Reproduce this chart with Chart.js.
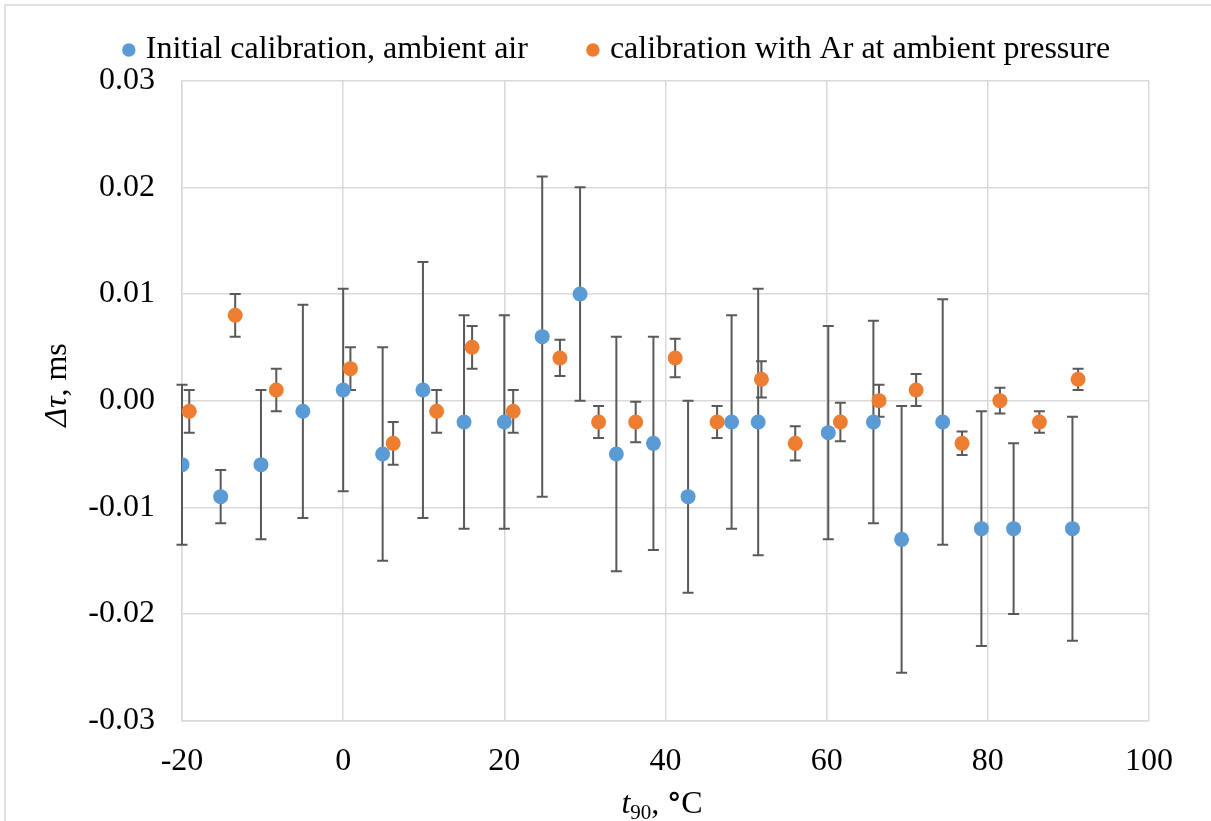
<!DOCTYPE html>
<html>
<head>
<meta charset="utf-8">
<script src="https://cdn.jsdelivr.net/npm/chart.js@4.4.1/dist/chart.umd.min.js"></script>
<style>
  html, body { margin: 0; padding: 0; background: #fff; }
  #wrap { position: relative; width: 1211px; height: 821px; }
</style>
</head>
<body>
<div id="wrap"><canvas id="chart"></canvas></div>
<script>
// values
const airT = [-20, -15.2, -10.2, -5, 0, 4.9, 9.9, 15, 20, 24.7, 29.4, 33.9, 38.5, 42.8, 48.2, 51.5, 60.2, 65.8, 69.3, 74.4, 79.2, 83.2, 90.5];
const airDelta = [-0.006, -0.009, -0.006, -0.001, 0.001, -0.005, 0.001, -0.002, -0.002, 0.006, 0.010, -0.005, -0.004, -0.009, -0.002, -0.002, -0.003, -0.002, -0.013, -0.002, -0.012, -0.012, -0.012];
const airErr = [0.0075, 0.0025, 0.007, 0.01, 0.0095, 0.01, 0.012, 0.01, 0.01, 0.015, 0.01, 0.011, 0.01, 0.009, 0.01, 0.0125, 0.01, 0.0095, 0.0125, 0.0115, 0.011, 0.008, 0.0105];

const arT = [-19.1, -13.4, -8.3, 0.9, 6.2, 11.6, 16.0, 21.1, 26.9, 31.7, 36.3, 41.2, 46.4, 51.9, 56.1, 61.7, 66.5, 71.1, 76.8, 81.5, 86.4, 91.2];
const arDelta = [-0.001, 0.008, 0.001, 0.003, -0.004, -0.001, 0.005, -0.001, 0.004, -0.002, -0.002, 0.004, -0.002, 0.002, -0.004, -0.002, 0, 0.001, -0.004, 0, -0.002, 0.002];
const arErr = [0.002, 0.002, 0.002, 0.002, 0.002, 0.002, 0.002, 0.002, 0.0017, 0.0015, 0.0019, 0.0018, 0.0015, 0.0017, 0.0016, 0.0018, 0.0015, 0.0015, 0.0011, 0.0012, 0.001, 0.001];

const xTicks = [-20, 0, 20, 40, 60, 80, 100];
const yTicks = [-0.03, -0.02, -0.01, 0, 0.01, 0.02, 0.03];

const FONT = '"Liberation Serif", "Times New Roman", serif';
const GRID = '#d9d9d9';

function toPoints(xs, ys) {
  return xs.map((x, i) => ({ x: x, y: ys[i] }));
}

// vertical error bars, drawn under the markers
const errorBars = {
  id: 'errorBars',
  beforeDatasetsDraw(chart) {
    const ctx = chart.ctx;
    const xs = chart.scales.x, ys = chart.scales.y;
    ctx.save();
    ctx.strokeStyle = '#595959';
    ctx.lineWidth = 2;
    chart.data.datasets.forEach(ds => {
      ds.data.forEach((p, i) => {
        const e = ds.errors[i];
        const px = xs.getPixelForValue(p.x);
        const top = ys.getPixelForValue(p.y + e);
        const bot = ys.getPixelForValue(p.y - e);
        ctx.beginPath();
        ctx.moveTo(px, top); ctx.lineTo(px, bot);
        ctx.moveTo(px - 5.5, top); ctx.lineTo(px + 5.5, top);
        ctx.moveTo(px - 5.5, bot); ctx.lineTo(px + 5.5, bot);
        ctx.stroke();
      });
    });
    ctx.restore();
  }
};

// outer chart frame and the two axis titles with italic / subscript parts
const decorations = {
  id: 'decorations',
  beforeDraw(chart) {
    const ctx = chart.ctx;
    ctx.save();
    ctx.strokeStyle = GRID;
    ctx.lineWidth = 1.5;
    ctx.beginPath();
    ctx.moveTo(5, 830); ctx.lineTo(5, 5); ctx.lineTo(1220, 5);
    ctx.stroke();
    ctx.restore();
  },
  afterDraw(chart) {
    const ctx = chart.ctx;
    ctx.save();
    ctx.fillStyle = '#000';
    ctx.textBaseline = 'alphabetic';
    ctx.textAlign = 'left';

    // x title: t90, °C
    const fMain = '32px ' + FONT, fIt = 'italic 32px ' + FONT, fSub = '21px ' + FONT;
    const fDeg = 'bold 28px "DejaVu Sans", sans-serif';
    const parts = [
      ['t', fIt, 0], ['90', fSub, 6], [', ', fMain, 0], ['°', fDeg, 0], ['C', fMain, 0]
    ];
    const widths = parts.map(p => { ctx.font = p[1]; return ctx.measureText(p[0]).width; });
    let x = 662 - widths.reduce((s, w) => s + w, 0) / 2;
    const base = 813;
    parts.forEach((p, i) => {
      ctx.font = p[1];
      ctx.fillText(p[0], x, base + p[2]);
      x += widths[i];
    });

    // y title: Δτ, ms
    ctx.translate(66, 385);
    ctx.rotate(-Math.PI / 2);
    ctx.font = fIt; const a = ctx.measureText('Δτ').width;
    ctx.font = fMain; const b = ctx.measureText(', ms').width;
    let y = -(a + b) / 2;
    ctx.font = fIt; ctx.fillText('Δτ', y, 0); y += a;
    ctx.font = fMain; ctx.fillText(', ms', y, 0);
    ctx.restore();
  }
};

new Chart(document.getElementById('chart'), {
  type: 'scatter',
  data: {
    datasets: [
      {
        label: 'Initial calibration, ambient air',
        data: toPoints(airT, airDelta),
        errors: airErr,
        backgroundColor: '#5b9bd5',
        borderColor: '#5b9bd5',
        borderWidth: 0,
        pointRadius: 7.5,
        pointHoverRadius: 7.5
      },
      {
        label: 'calibration with Ar at ambient pressure',
        data: toPoints(arT, arDelta),
        errors: arErr,
        backgroundColor: '#ed7d31',
        borderColor: '#ed7d31',
        borderWidth: 0,
        pointRadius: 7.5,
        pointHoverRadius: 7.5
      }
    ]
  },
  options: {
    responsive: true,
    maintainAspectRatio: false,
    animation: false,
    layout: { padding: { top: -30, right: 0, bottom: 0, left: 27 } },
    plugins: {
      tooltip: { enabled: false },
      legend: {
        position: 'top',
        labels: {
          usePointStyle: true,
          pointStyle: 'circle',
          boxWidth: 2,
          boxHeight: 9.5,
          padding: 64,
          color: '#000',
          font: { family: FONT, size: 32 }
        }
      },
      // empty spacer between legend and plot area
      subtitle: {
        display: true,
        text: '',
        weight: 500,
        font: { size: 1, lineHeight: 1 },
        padding: { top: 3.6, bottom: 0 }
      },
      // empty spacer on the right of the plot area
      title: {
        display: true,
        position: 'right',
        text: '',
        font: { size: 1, lineHeight: 1 },
        padding: { top: 61, bottom: 0 }
      }
    },
    scales: {
      x: {
        type: 'linear',
        min: -20,
        max: 100,
        afterBuildTicks: s => { s.ticks = xTicks.map(v => ({ value: v })); },
        afterFit: s => { s.height = 100.3; },
        grid: { color: GRID, lineWidth: 1.5, drawTicks: false },
        border: { color: GRID, width: 1.5 },
        ticks: { color: '#000', padding: 22, font: { family: FONT, size: 32 } }
      },
      y: {
        type: 'linear',
        min: -0.03,
        max: 0.03,
        afterBuildTicks: s => { s.ticks = yTicks.map(v => ({ value: v })); },
        afterFit: s => { s.width = 155; },
        grid: { color: GRID, lineWidth: 1.5, drawTicks: false },
        border: { color: GRID, width: 1.5 },
        ticks: {
          color: '#000',
          padding: 27,
          font: { family: FONT, size: 32 },
          callback: v => (Math.abs(v) < 1e-9 ? 0 : v).toFixed(2)
        }
      }
    }
  },
  plugins: [errorBars, decorations]
});
</script>
</body>
</html>
